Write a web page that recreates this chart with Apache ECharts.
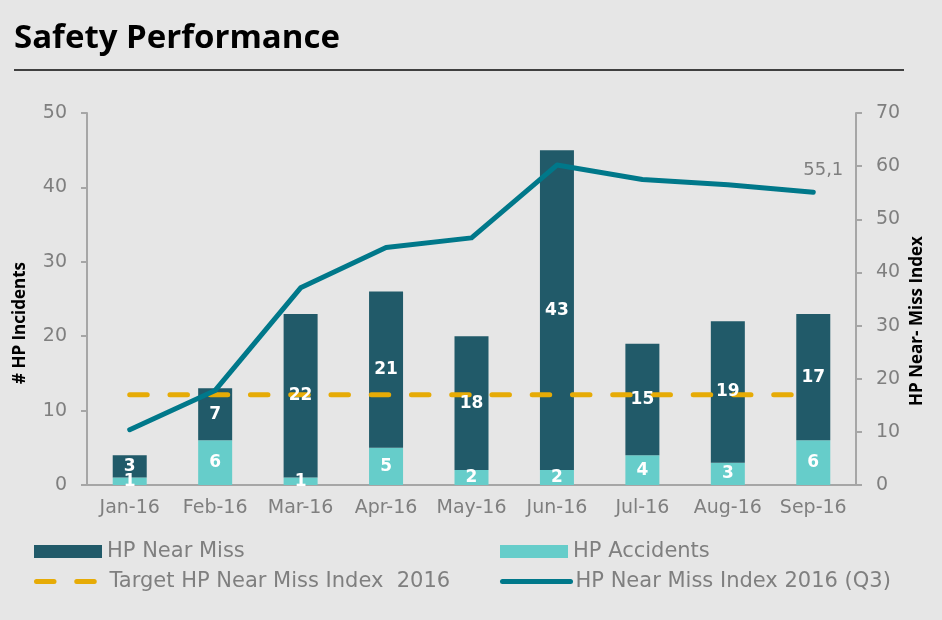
<!DOCTYPE html>
<html>
<head>
<meta charset="utf-8">
<script src="https://cdn.jsdelivr.net/npm/echarts@6/dist/echarts.min.js"></script>
<style>
  html, body { margin: 0; padding: 0; background: #e6e6e6; }
</style>
</head>
<body>
<div id="main" style="width:942px;height:620px;"></div>
<script type="text/javascript">
// 数据
var months = ['Jan-16', 'Feb-16', 'Mar-16', 'Apr-16', 'May-16', 'Jun-16', 'Jul-16', 'Aug-16', 'Sep-16'];
var nearMiss = [3, 7, 22, 21, 18, 43, 15, 19, 17];
var accidents = [1, 6, 1, 5, 2, 2, 4, 3, 6];
var targetIndex = [17, 17, 17, 17, 17, 17, 17, 17, 17];
var nearMissIndex = [10.4, 17.8, 37.1, 44.7, 46.5, 60.2, 57.5, 56.5, 55.1];

var labelFont = "'DejaVu Sans', sans-serif";
var grey = '#7f7f7f';
var axisGrey = '#a6a6a6';
var targetDash = { color: '#e6ab06', width: 5, type: [17.5, 22.75], cap: 'round' };
var indexLine = { color: '#00788a', width: 5, cap: 'round', join: 'round' };

var myChart = echarts.init(document.getElementById('main'));

// 只在最后一个点显示数值标签
var indexData = nearMissIndex.map(function (v, i) {
    if (i === nearMissIndex.length - 1) {
        return {
            value: v,
            label: {
                show: true,
                position: 'top',
                distance: 12,
                offset: [10, 0],
                color: grey,
                fontSize: 18,
                fontFamily: labelFont,
                formatter: function (p) { return String(p.value).replace('.', ','); }
            }
        };
    }
    return v;
});

function legendAt(name, left, top, lineStyle) {
    var lg = {
        data: [{ name: name, icon: lineStyle ? undefined : 'rect' }],
        left: left,
        top: top,
        padding: 0,
        itemWidth: 68,
        itemHeight: 13,
        selectedMode: false,
        textStyle: { color: grey, fontSize: 21, fontFamily: labelFont }
    };
    if (lineStyle) {
        lg.lineStyle = lineStyle;
        lg.itemStyle = { opacity: 0 };
    }
    return lg;
}

var barLabel = {
    show: true,
    position: 'inside',
    color: '#ffffff',
    fontSize: 17,
    fontWeight: 'bold',
    fontFamily: labelFont
};

var option = {
    backgroundColor: '#e6e6e6',
    animation: false,
    grid: { left: 87, right: 86, top: 113, bottom: 135 },
    legend: [
        legendAt('HP Near Miss', 34, 541),
        legendAt('HP Accidents', 500, 541),
        legendAt('Target HP Near Miss Index  2016', 34, 571, targetDash),
        legendAt('HP Near Miss Index 2016 (Q3)', 500, 571, indexLine)
    ],
    graphic: [
        {
            type: 'text', left: 14, top: 22,
            style: { text: 'Safety Performance', fill: '#000', font: "bold 33px 'Open Sans', sans-serif" }
        },
        {
            type: 'line',
            shape: { x1: 14, y1: 70, x2: 904, y2: 70 },
            style: { stroke: '#404040', lineWidth: 2 }
        },
        {
            type: 'text', x: 20, y: 323, rotation: Math.PI / 2,
            style: { text: '# HP Incidents', fill: '#000', font: "bold 17px 'Open Sans', sans-serif", align: 'center', verticalAlign: 'middle' }
        },
        {
            type: 'text', x: 917, y: 321, rotation: Math.PI / 2,
            style: { text: 'HP Near- Miss Index', fill: '#000', font: "bold 17px 'Open Sans', sans-serif", align: 'center', verticalAlign: 'middle' }
        }
    ],
    xAxis: {
        type: 'category',
        data: months,
        axisLine: { lineStyle: { color: axisGrey, width: 2 } },
        axisTick: { length: 6, lineStyle: { color: axisGrey, width: 2 } },
        axisLabel: { color: grey, fontSize: 19, fontFamily: labelFont, margin: 14, interval: 0 }
    },
    yAxis: [
        {
            type: 'value', min: 0, max: 50, interval: 10,
            axisLine: { show: true, lineStyle: { color: axisGrey, width: 2 } },
            axisTick: { show: true, length: 6, lineStyle: { color: axisGrey, width: 2 } },
            splitLine: { show: false },
            axisLabel: { color: grey, fontSize: 19, fontFamily: labelFont, margin: 20 }
        },
        {
            type: 'value', min: 0, max: 70, interval: 10,
            axisLine: { show: true, lineStyle: { color: axisGrey, width: 2 } },
            axisTick: { show: true, length: 6, lineStyle: { color: axisGrey, width: 2 } },
            splitLine: { show: false },
            axisLabel: { color: grey, fontSize: 19, fontFamily: labelFont, margin: 20 }
        }
    ],
    series: [
        {
            name: 'HP Accidents',
            type: 'bar',
            stack: 'incidents',
            barWidth: 34,
            data: accidents,
            itemStyle: { color: '#66cdca' }
        },
        {
            name: 'HP Near Miss',
            type: 'bar',
            stack: 'incidents',
            barWidth: 34,
            data: nearMiss,
            itemStyle: { color: '#215a69' }
        },
        {
            name: 'Target HP Near Miss Index  2016',
            type: 'line',
            yAxisIndex: 1,
            data: targetIndex,
            symbol: 'none',
            lineStyle: targetDash,
            itemStyle: { color: '#e6ab06' }
        },
        {
            name: 'HP Near Miss Index 2016 (Q3)',
            type: 'line',
            yAxisIndex: 1,
            data: indexData,
            symbol: 'circle',
            symbolSize: 1,
            lineStyle: indexLine,
            itemStyle: { color: '#00788a' }
        },
        // 数值标签放在最上层（透明柱子），这样虚线不会盖住数字
        {
            name: 'accidents-label',
            type: 'bar',
            stack: 'labels',
            barWidth: 34,
            barGap: '-100%',
            z: 5,
            silent: true,
            data: accidents,
            itemStyle: { color: 'rgba(0,0,0,0)' },
            label: barLabel
        },
        {
            name: 'nearmiss-label',
            type: 'bar',
            stack: 'labels',
            barWidth: 34,
            barGap: '-100%',
            z: 5,
            silent: true,
            data: nearMiss,
            itemStyle: { color: 'rgba(0,0,0,0)' },
            label: barLabel
        }
    ]
};
myChart.setOption(option);
</script>
</body>
</html>
